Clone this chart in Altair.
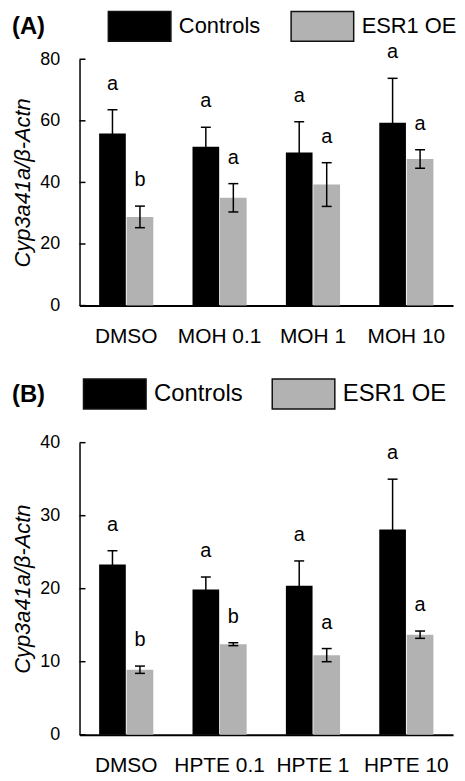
import altair as alt
import pandas as pd

FONT = "Liberation Sans"
groups = ["Controls", "ESR1 OE"]
colors = ["#000000", "#b2b2b2"]
y_title = "Cyp3a41a/β-Actn"

# Panel A (MOH)
a_treat = ["DMSO", "MOH 0.1", "MOH 1", "MOH 10"]
a_ctrl = [55.9, 51.6, 49.7, 59.4]
a_ctrl_err = [7.7, 6.3, 10.0, 14.4]
a_esr = [28.8, 35.0, 39.3, 47.6]
a_esr_err = [3.5, 4.6, 7.1, 3.0]
a_ctrl_sig = ["a", "a", "a", "a"]
a_esr_sig = ["b", "a", "a", "a"]
a_ticks = [0, 20, 40, 60, 80]

# Panel B (HPTE)
b_treat = ["DMSO", "HPTE 0.1", "HPTE 1", "HPTE 10"]
b_ctrl = [23.3, 19.9, 20.4, 28.1]
b_ctrl_err = [1.9, 1.7, 3.4, 6.9]
b_esr = [8.9, 12.4, 10.9, 13.7]
b_esr_err = [0.5, 0.2, 0.9, 0.5]
b_ctrl_sig = ["a", "a", "a", "a"]
b_esr_sig = ["b", "b", "a", "a"]
b_ticks = [0, 10, 20, 30, 40]

SYMBOL = "M-1,-1H3.2V1H-1Z"


def panel(tag, treat, ctrl, ctrl_err, esr, esr_err, ctrl_sig, esr_sig, ticks,
          height, leg_y, title_pad, label_size, col_pad):
    rows = []
    for i, t in enumerate(treat):
        rows.append(dict(treat=t, group=groups[0], value=ctrl[i],
                         lo=ctrl[i] - ctrl_err[i], hi=ctrl[i] + ctrl_err[i], sig=ctrl_sig[i]))
        rows.append(dict(treat=t, group=groups[1], value=esr[i],
                         lo=esr[i] - esr_err[i], hi=esr[i] + esr_err[i], sig=esr_sig[i]))
    df = pd.DataFrame(rows)

    x = alt.X("treat:N", sort=treat,
              scale=alt.Scale(paddingInner=0.42, paddingOuter=0.21),
              axis=alt.Axis(title=None, labelAngle=0, ticks=False, labelPadding=20,
                            labelFontSize=21, domainWidth=2, domainColor="black",
                            labelColor="black", labelFont=FONT))
    xo = alt.XOffset("group:N", sort=groups, scale=alt.Scale(paddingInner=0.03, paddingOuter=0))

    def yenc(field):
        return alt.Y(f"{field}:Q",
                     scale=alt.Scale(domain=[ticks[0], ticks[-1]], nice=False),
                     axis=alt.Axis(values=ticks, ticks=False, grid=False, labelPadding=20,
                                   labelFontSize=18, labelColor="black", labelFont=FONT,
                                   title=y_title, titleFontStyle="italic", titleFontSize=22,
                                   titleFontWeight="normal", titlePadding=5,
                                   titleColor="black", titleFont=FONT,
                                   domainWidth=1.5, domainColor="black"))

    color = alt.Color("group:N", sort=groups,
                      scale=alt.Scale(domain=groups, range=colors),
                      legend=alt.Legend(title=tag, titleOrient="left", titleFontSize=24,
                                        titleFontWeight="bold", titleFont=FONT,
                                        titleColor="black", titlePadding=title_pad,
                                        orient="none", direction="horizontal",
                                        legendX=-68, legendY=leg_y,
                                        symbolType=SYMBOL, symbolSize=900,
                                        symbolStrokeColor="#111111", symbolStrokeWidth=1.5,
                                        symbolOpacity=1, labelFontSize=label_size,
                                        labelFont=FONT, labelColor="black",
                                        labelOffset=40, columnPadding=col_pad, padding=0))

    base = alt.Chart(df)
    bars = base.mark_bar(opacity=1).encode(x=x, xOffset=xo, y=yenc("value"), color=color)
    err = base.mark_rule(color="black", strokeWidth=1.5).encode(
        x=x, xOffset=xo, y=yenc("lo"), y2="hi:Q")
    cap_hi = base.mark_tick(color="black", thickness=1.5, size=10, opacity=1).encode(
        x=x, xOffset=xo, y=yenc("hi"))
    cap_lo = base.mark_tick(color="black", thickness=1.5, size=10, opacity=1).encode(
        x=x, xOffset=xo, y=yenc("lo"))
    letters = base.mark_text(color="black", fontSize=20, font=FONT, baseline="alphabetic",
                             dy=-20).encode(x=x, xOffset=xo, y=yenc("hi"), text="sig:N")
    tick_df = pd.DataFrame({"t": ticks})
    yticks = alt.Chart(tick_df).mark_rule(color="black", strokeWidth=1.5).encode(
        x=alt.value(0), x2=alt.value(6), y=yenc("t"))
    return alt.layer(bars, err, cap_hi, cap_lo, letters, yticks).properties(
        width=376, height=height)


pa = panel("(A)", a_treat, a_ctrl, a_ctrl_err, a_esr, a_esr_err, a_ctrl_sig, a_esr_sig,
           a_ticks, 248, -49, 62, 22, 28)
pb = panel("(B)", b_treat, b_ctrl, b_ctrl_err, b_esr, b_esr_err, b_ctrl_sig, b_esr_sig,
           b_ticks, 294, -65, 37, 24, 26)

chart = (alt.vconcat(pa, pb, spacing=32)
         .resolve_scale(color="independent")
         .properties(padding={"left": 3, "top": 0, "right": 0, "bottom": 0})
         .configure(font=FONT)
         .configure_view(strokeWidth=0))

chart.save("out.html", embed_options={"renderer": "svg", "actions": False})
